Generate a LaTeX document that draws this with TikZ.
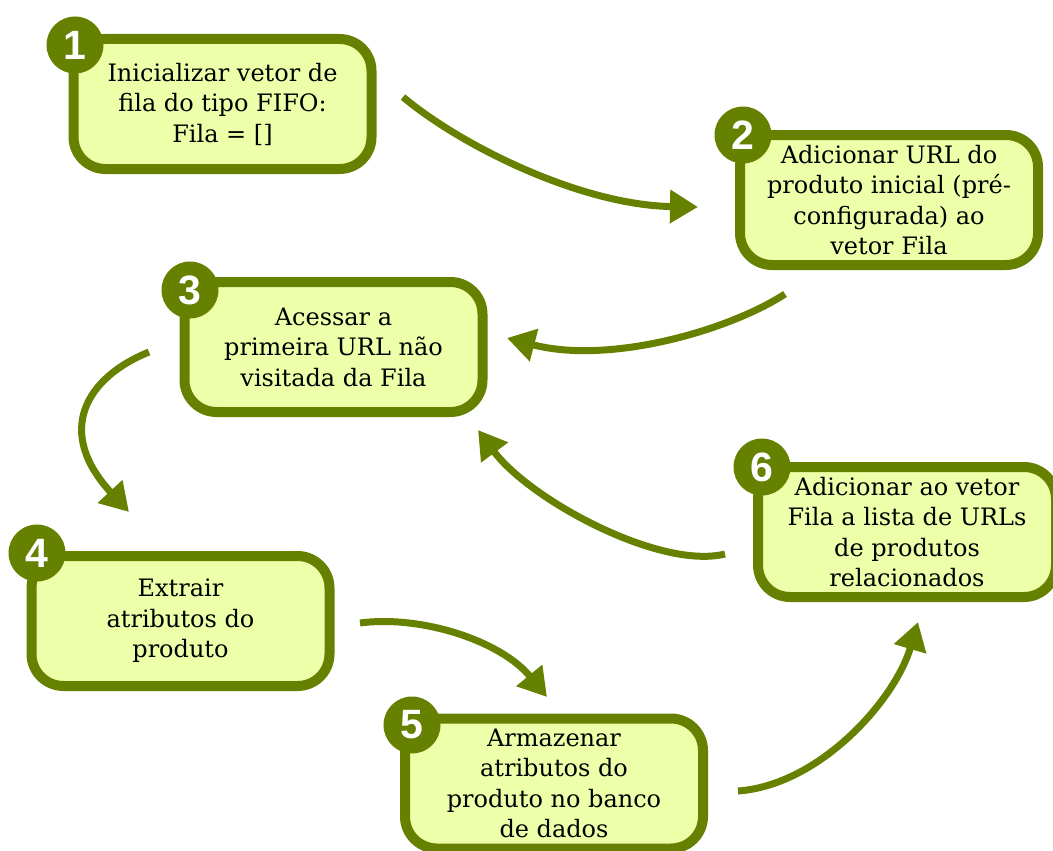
\documentclass[tikz,border=0pt]{standalone}
\usepackage{fontspec}
\setmainfont{DejaVu Serif}
\newfontfamily\numfont{Liberation Sans}
\usetikzlibrary{arrows.meta}
\definecolor{stepgreen}{RGB}{102,128,0}
\definecolor{stepfill}{RGB}{238,255,170}
\tikzset{
  stepbox/.style={draw=stepgreen, fill=stepfill, line width=10pt, rounded corners=32pt,
    minimum width=298pt, minimum height=130pt, inner sep=0pt, align=center,
    font=\fontsize{24}{30.5}\selectfont},
  badge/.style={circle, fill=stepgreen, minimum size=57pt, inner sep=0pt, text=white,
    font=\numfont\bfseries\fontsize{41}{41}\selectfont},
  flow/.style={draw=stepgreen, line width=7pt, -{Triangle[length=28pt,width=32pt]}}
}
\begin{document}
\begin{tikzpicture}[x=1pt, y=-1pt]
\useasboundingbox (0,0) rectangle (1053,851);

% step boxes
\node[stepbox] (b1) at (222.5,104) {Inicializar vetor de\\fila do tipo FIFO:\\Fila = []};
\node[stepbox] (b2) at (889,200) {Adicionar URL do\\produto inicial (pré-\\configurada) ao\\vetor Fila};
\node[stepbox] (b3) at (333.5,347) {Acessar a\\primeira URL não\\visitada da Fila};
\node[stepbox] (b4) at (180.5,621) {Extrair\\atributos do\\produto};
\node[stepbox] (b5) at (554,783.5) {Armazenar\\atributos do\\produto no banco\\de dados};
\node[stepbox] (b6) at (907,532) {Adicionar ao vetor\\Fila a lista de URLs\\de produtos\\relacionados};

% numbered badges
\node[badge] (c1) at (75,45) {1};
\node[badge] (c2) at (743,135) {2};
\node[badge] (c3) at (190,290) {3};
\node[badge] (c4) at (37,553) {4};
\node[badge] (c5) at (412,725) {5};
\node[badge] (c6) at (762,467) {6};

% connector ends
\coordinate (s12) at (403,97);   \coordinate (e12) at (698,207);
\coordinate (s23) at (785,294);  \coordinate (e23) at (507,338);
\coordinate (s34) at (149,352);  \coordinate (e34) at (129,512);
\coordinate (s45) at (360,623);  \coordinate (e45) at (547,697);
\coordinate (s56) at (738,791);  \coordinate (e56) at (918,622);
\coordinate (s63) at (725,554);  \coordinate (e63) at (478,430);

% flow arrows
\draw[flow] (s12) .. controls (460,145) and (580,205) .. (e12);
\draw[flow] (s23) .. controls (730,330) and (610,365) .. (e23);
\draw[flow] (s34) .. controls (85,378) and (55,432) .. (e34);
\draw[flow] (s45) .. controls (420,615) and (500,640) .. (e45);
\draw[flow] (s56) .. controls (820,785) and (895,700) .. (e56);
\draw[flow] (s63) .. controls (660,570) and (530,500) .. (e63);
\end{tikzpicture}
\end{document}
